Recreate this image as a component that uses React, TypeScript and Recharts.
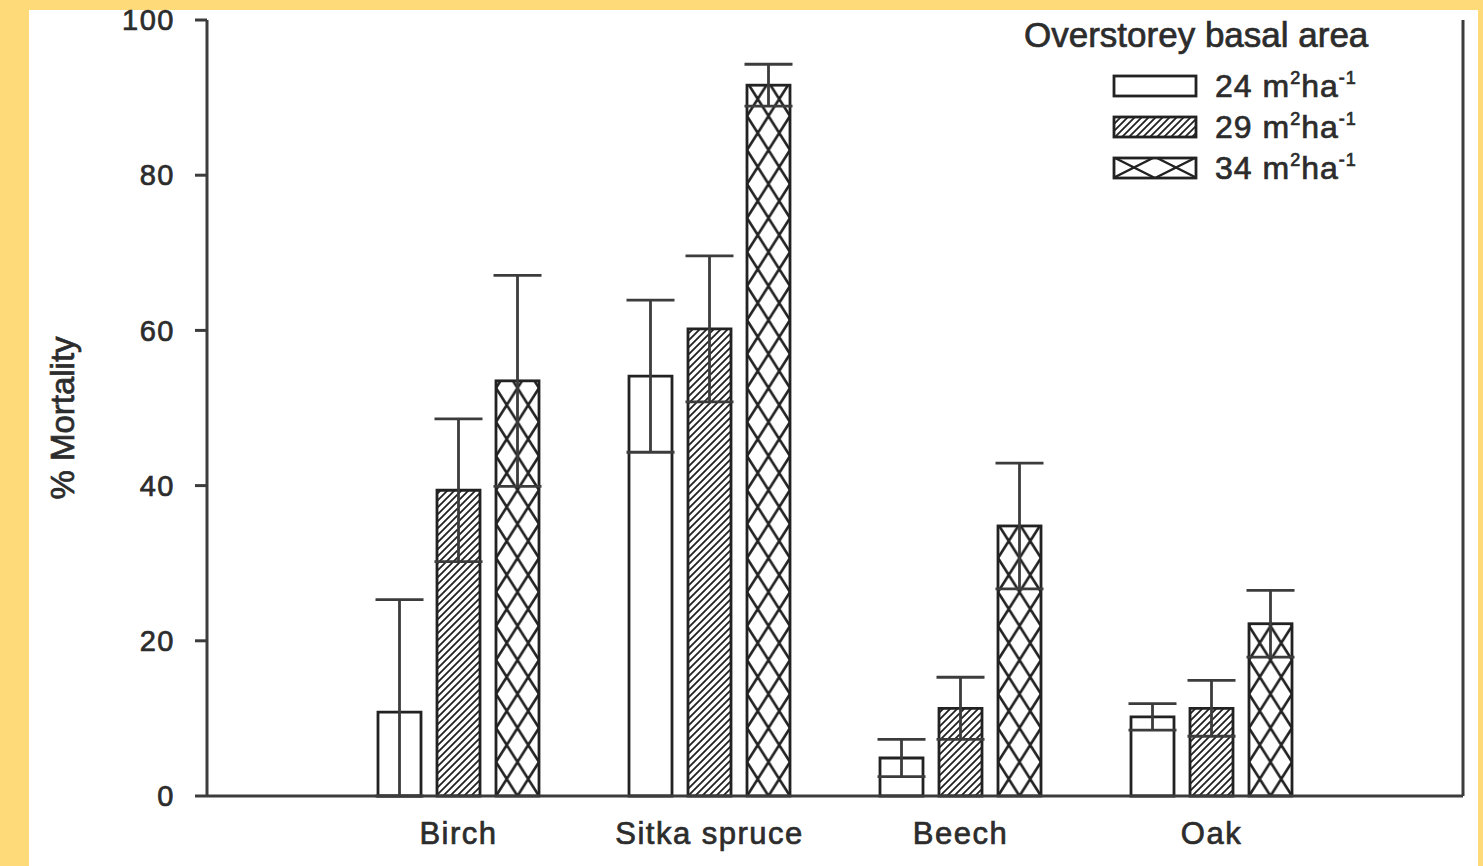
import React from 'react';
import { BarChart, Bar, XAxis, YAxis, ErrorBar, Legend } from 'recharts';

// species along the x axis
const species = ['Birch', 'Sitka spruce', 'Beech', 'Oak'];

// % mortality per overstorey basal area
const mort24 = [10.8, 54.1, 4.9, 10.2];
const mort29 = [39.4, 60.2, 11.3, 11.3];
const mort34 = [53.5, 91.6, 34.8, 22.2];

// standard errors
const se24 = [14.5, 9.8, 2.4, 1.7];
const se29 = [9.2, 9.4, 4.0, 3.6];
const se34 = [13.6, 2.7, 8.1, 4.3];

const yTicks = [0, 20, 40, 60, 80, 100];
const legendLabels = ['24', '29', '34'];

// error bars are cut at zero
const clip = (v: number, e: number) => [Math.min(e, v), e];

const data = species.map((name, i) => ({
  name,
  m24: mort24[i],
  m29: mort29[i],
  m34: mort34[i],
  e24: clip(mort24[i], se24[i]),
  e29: clip(mort29[i], se29[i]),
  e34: clip(mort34[i], se34[i]),
}));

const INK = '#222';
const AXIS = '#3c3c3c';
const TXT = '#2c2c2c';
const FONT = '"Liberation Sans", Arial, sans-serif';
// a thin outline makes the text look as heavy as the scanned original
const heavy = { stroke: TXT, strokeWidth: 0.7 };

/** bar with the diamond cross-hatch, pattern tied to the bar's own box */
function CrossBar(props: any) {
  const { x, y, width, height } = props;
  if (!height || height <= 0) return null;
  const id = `xhatch-${Math.round(x)}`;
  const tw = width / 2;
  const th = 34;
  return (
    <g>
      <defs>
        <pattern id={id} patternUnits="userSpaceOnUse" x={x} y={y + height} width={tw} height={th}>
          <rect width={tw} height={th} fill="#fff" />
          <path d={`M0,0 L${tw},${th} M${tw},0 L0,${th}`} stroke={INK} strokeWidth={2.6} />
        </pattern>
      </defs>
      <rect x={x} y={y} width={width} height={height} fill={`url(#${id})`} stroke={INK} strokeWidth={2.8} />
    </g>
  );
}

function LegendBox() {
  const swatchFills = ['#fff', 'url(#lg-hatch)', 'url(#lg-cross)'];
  return (
    <svg width={470} height={195} style={{ fontFamily: FONT }}>
      <defs>
        <pattern id="lg-hatch" patternUnits="userSpaceOnUse" width={7} height={7}>
          <rect width={7} height={7} fill="#fff" />
          <path d="M0,7 L7,0 M-2,2 L2,-2 M5,9 L9,5" stroke={INK} strokeWidth={1.8} />
        </pattern>
        <pattern id="lg-cross" patternUnits="userSpaceOnUse" x={113} y={157} width={42} height={21}>
          <rect width={42} height={21} fill="#fff" />
          <path d="M0,0 L42,21 M42,0 L0,21" stroke={INK} strokeWidth={2.4} />
        </pattern>
      </defs>
      <text x={24} y={47} fontSize={35} fill={TXT} style={heavy}>Overstorey basal area</text>
      {legendLabels.map((lab, i) => {
        const top = 76 + i * 41;
        return (
          <g key={lab}>
            <rect x={114} y={top} width={82} height={20} fill={swatchFills[i]} stroke={INK} strokeWidth={2.8} />
            <text x={215} y={top + 21} fontSize={32} fill={TXT} letterSpacing={1} style={heavy}>
              {lab} m<tspan dy={-13} fontSize={18}>2</tspan>
              <tspan dy={13}>ha</tspan>
              <tspan dy={-13} fontSize={18}>-1</tspan>
            </text>
          </g>
        );
      })}
    </svg>
  );
}

function YLabel(props: any) {
  const { viewBox } = props;
  const cy = viewBox.y + viewBox.height / 2 + 10;
  return (
    <text x={74} y={cy} transform={`rotate(-90 74 ${cy})`} textAnchor="middle" fontSize={33} fill={TXT} style={{ fontFamily: FONT, ...heavy }}>
      % Mortality
    </text>
  );
}

export default function App() {
  return (
    <div style={{ position: 'absolute', left: 0, top: 0, width: 1483, height: 866, background: '#FFDA78' }}>
      <div style={{ position: 'absolute', left: 29, top: 10, width: 1449, height: 856, background: '#fff' }} />
      <div style={{ position: 'absolute', left: 0, top: 0 }}>
        <BarChart
          width={1483}
          height={866}
          data={data}
          margin={{ top: 20, right: 0, bottom: 0, left: 0 }}
          barSize={43}
          barGap={16}
          style={{ fontFamily: FONT }}
        >
          <defs>
            <pattern id="hatch" patternUnits="userSpaceOnUse" width={7} height={7}>
              <rect width={7} height={7} fill="#fff" />
              <path d="M0,7 L7,0 M-2,2 L2,-2 M5,9 L9,5" stroke={INK} strokeWidth={1.8} />
            </pattern>
          </defs>
          <XAxis
            dataKey="name"
            height={70}
            padding={{ left: 126, right: 126 }}
            tickLine={false}
            tickSize={0}
            tickMargin={26}
            axisLine={{ stroke: AXIS, strokeWidth: 3 }}
            tick={{ fontSize: 31, fill: TXT, letterSpacing: 1.5, ...heavy }}
          />
          <YAxis
            width={207}
            domain={[0, 100]}
            ticks={yTicks}
            tickSize={12}
            tickMargin={20}
            tickLine={{ stroke: AXIS, strokeWidth: 3 }}
            axisLine={{ stroke: AXIS, strokeWidth: 3 }}
            tick={{ fontSize: 29, fill: TXT, letterSpacing: 1.5, ...heavy }}
            label={<YLabel />}
          />
          <YAxis
            yAxisId="r"
            orientation="right"
            width={20}
            domain={[0, 100]}
            tick={false}
            tickLine={false}
            axisLine={{ stroke: AXIS, strokeWidth: 3 }}
          />
          <Legend
            layout="vertical"
            align="center"
            verticalAlign="middle"
            wrapperStyle={{ position: 'absolute', left: 1000, top: 0, width: 470 }}
            content={() => <LegendBox />}
          />
          <Bar dataKey="m24" fill="#fff" stroke={INK} strokeWidth={2.8} isAnimationActive={false}>
            <ErrorBar dataKey="e24" width={24} stroke={AXIS} strokeWidth={2.8} />
          </Bar>
          <Bar dataKey="m29" fill="url(#hatch)" stroke={INK} strokeWidth={2.8} isAnimationActive={false}>
            <ErrorBar dataKey="e29" width={24} stroke={AXIS} strokeWidth={2.8} />
          </Bar>
          <Bar dataKey="m34" shape={(p: any) => <CrossBar {...p} />} isAnimationActive={false}>
            <ErrorBar dataKey="e34" width={24} stroke={AXIS} strokeWidth={2.8} />
          </Bar>
        </BarChart>
      </div>
    </div>
  );
}
